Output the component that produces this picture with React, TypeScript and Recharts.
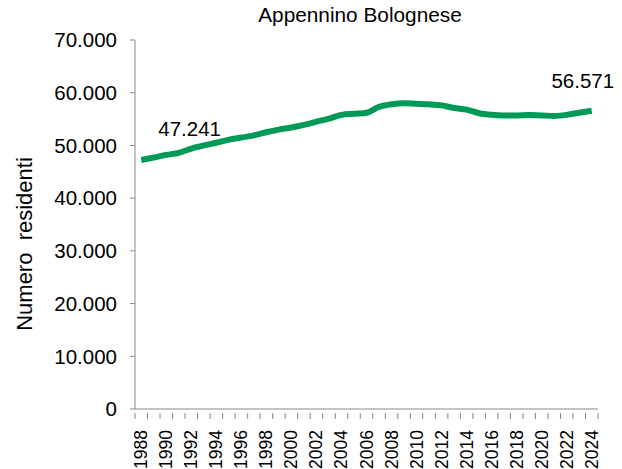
import { LineChart, Line, XAxis, YAxis, LabelList } from 'recharts';

const years = [
  '1988', '1989', '1990', '1991', '1992', '1993', '1994', '1995', '1996', '1997',
  '1998', '1999', '2000', '2001', '2002', '2003', '2004', '2005', '2006', '2007',
  '2008', '2009', '2010', '2011', '2012', '2013', '2014', '2015', '2016', '2017',
  '2018', '2019', '2020', '2021', '2022', '2023', '2024',
];

const residents = [
  47241, 47700, 48200, 48600, 49400, 50000, 50500, 51100, 51500, 51900,
  52500, 53000, 53400, 53900, 54500, 55100, 55800, 56000, 56200, 57300,
  57800, 58000, 57900, 57800, 57600, 57100, 56800, 56100, 55800, 55700,
  55700, 55750, 55700, 55600, 55800, 56200, 56571,
];

const yTicks = [0, 10000, 20000, 30000, 40000, 50000, 60000, 70000];

const data = years.map((y, i) => ({ year: y, value: residents[i] }));

const W = 622;
const H = 469;
const FONT = '"Liberation Sans", Arial, sans-serif';
const GREEN = '#009A57';
const AXIS = '#898989';

const fmt = (v: number) => String(v).replace(/\B(?=(\d{3})+(?!\d))/g, '.');

function YearTick(props: any) {
  const { x, y, payload, index, visibleTicksCount } = props;
  const band = 463 / years.length;
  const left = x - band / 2;
  return (
    <g>
      <line x1={left} y1={y - 4} x2={left} y2={y + 2} stroke={AXIS} />
      {index === (visibleTicksCount ?? years.length) - 1 && (
        <line x1={x + band / 2} y1={y - 4} x2={x + band / 2} y2={y + 2} stroke={AXIS} />
      )}
      {index % 2 === 0 && (
        <text
          x={x}
          y={y + 13}
          transform={`rotate(-90, ${x}, ${y + 13})`}
          textAnchor="end"
          dominantBaseline="central"
          fontSize={17.5}
          fontFamily={FONT}
          fill="#000"
        >
          {payload.value}
        </text>
      )}
    </g>
  );
}

function EndLabel(props: any) {
  const { x, y, value, index } = props;
  if (index === 0) {
    return (
      <text x={x + 17} y={y - 24} fontSize={20.5} fontFamily={FONT} fill="#000">
        {fmt(value)}
      </text>
    );
  }
  if (index === residents.length - 1) {
    return (
      <text x={x - 9} y={y - 23} textAnchor="middle" fontSize={20.5} fontFamily={FONT} fill="#000">
        {fmt(value)}
      </text>
    );
  }
  return null;
}

export default function App() {
  return (
    <div style={{ position: 'absolute', left: 0, top: 0, width: W, height: H, background: '#fff' }}>
      <div
        style={{
          position: 'absolute',
          top: 3,
          left: 210,
          width: 300,
          textAlign: 'center',
          fontFamily: FONT,
          fontSize: 20.8,
          color: '#000',
          whiteSpace: 'nowrap',
        }}
      >
        Appennino Bolognese
      </div>
      <LineChart width={W} height={H} data={data} margin={{ top: 40, right: 24, left: 0, bottom: 0 }}>
        <XAxis
          dataKey="year"
          interval={0}
          height={60}
          padding={{ left: 6.25, right: 6.25 }}
          stroke={AXIS}
          tickLine={false}
          tick={<YearTick />}
        />
        <YAxis
          width={135}
          domain={[0, 70000]}
          ticks={yTicks}
          tickFormatter={fmt}
          stroke={AXIS}
          tickSize={5}
          tickMargin={13}
          tick={{ fill: '#000', fontSize: 20.5, fontFamily: FONT }}
          label={{
            content: () => (
              <text
                x={24}
                y={244}
                transform="rotate(-90, 24, 244)"
                textAnchor="middle"
                dominantBaseline="central"
                fontSize={22}
                fontFamily={FONT}
                fill="#000"
                style={{ whiteSpace: 'pre' }}
              >
                Numero  residenti
              </text>
            ),
          }}
        />
        <Line
          type="monotone"
          dataKey="value"
          stroke={GREEN}
          strokeWidth={6}
          dot={false}
          isAnimationActive={false}
        >
          <LabelList dataKey="value" content={<EndLabel />} />
        </Line>
      </LineChart>
    </div>
  );
}
